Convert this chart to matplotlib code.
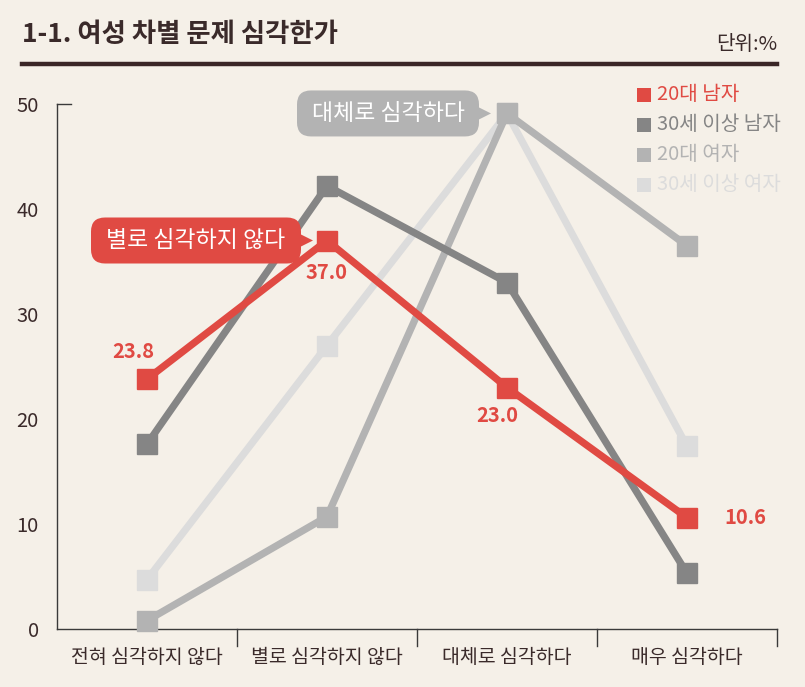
import matplotlib
matplotlib.use("Agg")
import matplotlib.pyplot as plt
from matplotlib.patches import FancyBboxPatch, Polygon
from matplotlib.lines import Line2D
from matplotlib.transforms import IdentityTransform

plt.rcParams['font.family'] = ['Noto Sans CJK KR', 'DejaVu Sans']

categories = ['전혀 심각하지 않다', '별로 심각하지 않다', '대체로 심각하다', '매우 심각하다']
series_names = ['20대 남자', '30세 이상 남자', '20대 여자', '30세 이상 여자']
male_20 = [23.8, 37.0, 23.0, 10.6]
male_30 = [17.6, 42.2, 33.0, 5.3]
female_20 = [0.8, 10.7, 49.1, 36.5]
female_30 = [4.7, 27.0, 49.1, 17.4]
yticks = [0, 10, 20, 30, 40, 50]

BG = '#f5f0e8'
RED = '#e04a43'
DARK = '#858585'
MID = '#b3b3b3'
LIGHT = '#dcdcdc'
TXT = '#3a2a2a'

W, H = 805, 687
fig = plt.figure(figsize=(W / 100, H / 100), dpi=100, facecolor=BG)
ax = fig.add_axes([57 / W, 1 - 629 / H, (777 - 57) / W, (629 - 104) / H])
ax.set_facecolor(BG)

x = list(range(len(categories)))
series = [(female_30, LIGHT, 2), (female_20, MID, 3), (male_30, DARK, 4), (male_20, RED, 5)]
for vals, col, z in series:
    ax.plot(x, vals, color=col, lw=5.2, marker='s', markersize=14, zorder=z,
            clip_on=False, solid_joinstyle='miter')

ax.set_xlim(-0.5, 3.5)
ax.set_ylim(0, 50)
ax.set_yticks(yticks)
ax.set_yticklabels([str(v) for v in yticks], fontsize=14.5, color=TXT)
ax.tick_params(axis='y', length=0, pad=13)
ax.set_xticks(x)
ax.set_xticklabels(categories, fontsize=14, color=TXT, fontweight='medium')
ax.tick_params(axis='x', length=0, pad=13)
for sp in ['top', 'right']:
    ax.spines[sp].set_visible(False)
for sp in ['left', 'bottom']:
    ax.spines[sp].set_color('#3a3a3a')
    ax.spines[sp].set_linewidth(1.0)
# cap at top of y axis
ax.plot([-0.5, -0.42], [50, 50], color='#3a3a3a', lw=1.0, clip_on=False)
# separator ticks below x axis
sep_tr = ax.get_xaxis_transform()
for b in [0.5, 1.5, 2.5, 3.5]:
    ax.add_line(Line2D([b, b], [0, -0.033], transform=sep_tr, color='#3a3a3a', lw=1.0, clip_on=False))

# data labels for 20대 남자
label_offsets = [(-10, 20), (0, -23), (-7, -20), (42, 0)]
for xi, v, off in zip(x, male_20, label_offsets):
    ax.annotate(f'{v:.1f}', xy=(xi, v), xytext=off, textcoords='offset points',
                ha='center', va='center', fontsize=14.5, fontweight='bold', color=RED, zorder=6)

# callouts
fig.canvas.draw()

def callout(xi, v, text, color, width, height, gap):
    px, py = ax.transData.transform((xi, v))
    right = px - gap
    left = right - width
    bottom = py - height / 2
    box = FancyBboxPatch((left, bottom), width, height,
                         boxstyle='round,pad=0,rounding_size=14',
                         transform=IdentityTransform(), facecolor=color,
                         edgecolor='none', zorder=8)
    fig.patches.append(box)
    tri = Polygon([(right - 6, py + 9), (right - 6, py - 9), (right + 12, py)],
                  closed=True, transform=IdentityTransform(), facecolor=color,
                  edgecolor='none', zorder=8)
    fig.patches.append(tri)
    fig.text((left + width / 2) / W, py / H, text, ha='center', va='center',
             fontsize=16.5, color='white', zorder=9)

callout(1, male_20[1], '별로 심각하지 않다', RED, 210, 46, 26)
callout(2, female_20[2], '대체로 심각하다', MID, 182, 46, 28)

# legend
leg_cols = [RED, DARK, MID, LIGHT]
for i, (name, col) in enumerate(zip(series_names, leg_cols)):
    yy = 1 - (95 + 30 * i) / H
    fig.patches.append(Polygon([(637, H - 88 - 30 * i), (651, H - 88 - 30 * i),
                                (651, H - 102 - 30 * i), (637, H - 102 - 30 * i)],
                               closed=True, transform=IdentityTransform(),
                               facecolor=col, edgecolor='none'))
    fig.text(657 / W, yy, name, ha='left', va='center', fontsize=14.5, color=col)

# title and rule
fig.text(22 / W, 1 - 34 / H, '1-1. 여성 차별 문제 심각한가', ha='left', va='center',
         fontsize=19, fontweight='bold', color=TXT)
fig.text(777 / W, 1 - 44 / H, '단위:%', ha='right', va='center', fontsize=14.5,
         fontweight='medium', color=TXT)
fig.add_artist(Line2D([22 / W, 777 / W], [1 - 64 / H, 1 - 64 / H], transform=fig.transFigure,
                      color='#3a2626', lw=3.2))

fig.savefig('out.png', dpi=100, facecolor=BG)
